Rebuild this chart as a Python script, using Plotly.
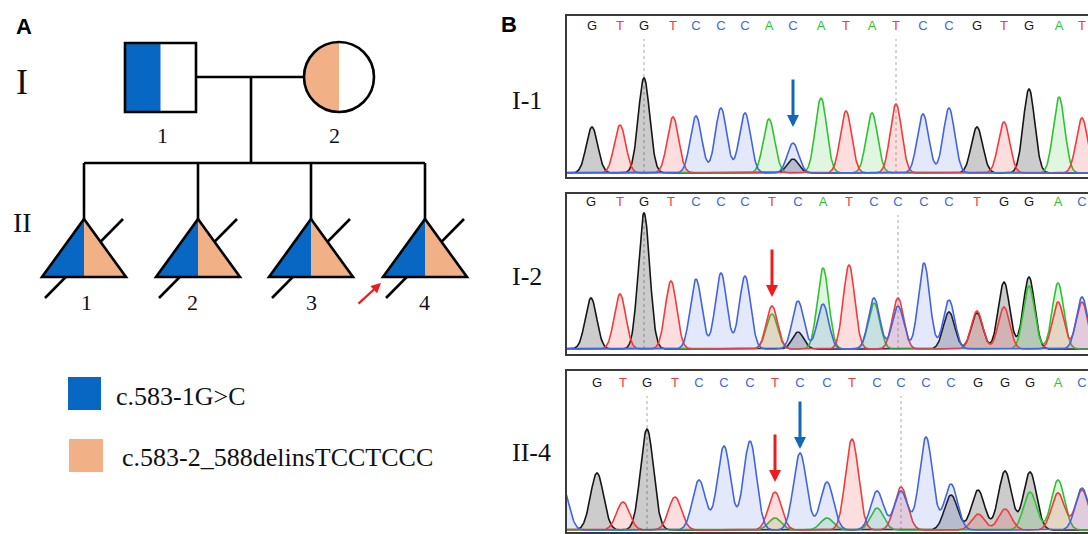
import numpy as np
import plotly.graph_objects as go

# ---------------- data ----------------
# Panel A: pedigree members and variants
legend_labels = ["c.583-1G>C", "c.583-2_588delinsTCCTCCC"]
gen_labels = ["I", "II"]
parent_ids = ["1", "2"]
child_ids = ["1", "2", "3", "4"]

# Panel B: Sanger chromatograms (scan position of each base call, and peak heights per dye channel)
sample_names = ["I-1", "I-2", "II-4"]

i1_bases = "GTGTCCCACATATCCGTGAT"
i1_pos = [592, 620, 644, 673, 696, 721, 745, 769, 793, 821, 846, 872, 896, 923, 949, 977, 1004, 1029, 1059, 1082]
i1_G = [46, 0, 95, 0, 0, 0, 0, 0, 14, 0, 0, 0, 0, 0, 0, 46, 0, 84, 0, 0]
i1_A = [0, 0, 0, 0, 0, 0, 0, 54, 0, 75, 0, 60, 0, 0, 0, 0, 0, 0, 76, 0]
i1_T = [0, 48, 0, 56, 0, 0, 0, 0, 0, 0, 62, 0, 69, 0, 0, 0, 51, 0, 0, 55]
i1_C = [0, 0, 0, 0, 57, 65, 60, 0, 30, 0, 0, 0, 0, 59, 65, 0, 0, 0, 0, 0]

i2_bases = "GTGTCCCTCATCCCCTGGAC"
i2_pos = [591, 620, 644, 671, 696, 721, 745, 772, 798, 823, 849, 874, 898, 924, 949, 977, 1004, 1029, 1058, 1082]
i2_G = [51, 0, 136, 0, 0, 0, 0, 0, 17, 0, 0, 0, 0, 0, 37, 36, 67, 72, 0, 0]
i2_A = [0, 0, 0, 0, 0, 0, 0, 35, 0, 81, 0, 46, 0, 0, 0, 0, 0, 63, 66, 0]
i2_T = [0, 55, 0, 68, 0, 0, 0, 43, 0, 0, 84, 0, 51, 0, 0, 38, 42, 0, 47, 47]
i2_C = [0, 0, 0, 0, 70, 76, 73, 0, 48, 45, 0, 51, 43, 86, 49, 0, 0, 0, 0, 52]

ii4_bases = "CGTGTCCCTCCTCCCCGGGAC"
ii4_pos = [562, 597, 623, 647, 675, 699, 724, 750, 775, 800, 827, 852, 877, 901, 926, 951, 978, 1005, 1030, 1058, 1082]
ii4_G = [0, 57, 0, 101, 0, 0, 0, 0, 0, 0, 0, 0, 0, 0, 0, 35, 40, 59, 58, 0, 0]
ii4_A = [0, 0, 0, 0, 0, 0, 0, 0, 12, 0, 12, 0, 22, 0, 0, 0, 0, 0, 38, 50, 0]
ii4_T = [0, 0, 28, 0, 33, 0, 0, 0, 38, 0, 0, 91, 0, 43, 0, 0, 16, 21, 0, 37, 40]
ii4_C = [45, 0, 0, 0, 0, 50, 84, 89, 0, 77, 48, 0, 39, 39, 93, 46, 0, 0, 0, 0, 42]

# base index of marked (every-10th) positions and mutation arrows per sample (index, colour, tip height)
marker_idx = [[2, 12], [2, 12], [3, 13]]
arrows = [[(8, "blue", 46)], [(7, "red", 52)], [(8, "red", 48), (9, "blue", 81)]]

# ---------------- styles ----------------
BLUE = "#0767c2"
PEACH = "#f1b085"
RED_ARROW = "#ee1c1c"
BLUE_ARROW = "#1268b7"
SERIF = "Liberation Serif, Times New Roman, serif"
SANS = "Liberation Sans, Arial, sans-serif"
DYE = {"G": "#161616", "A": "#2ec42e", "T": "#f23b3b", "C": "#4264e0"}
DYE_FILL = {"G": "rgba(0,0,0,0.20)", "A": "rgba(46,196,46,0.15)",
            "T": "rgba(242,59,59,0.17)", "C": "rgba(66,100,224,0.15)"}
W, H = 1088, 534

fig = go.Figure()
shapes = []
ann = []
LW = 2.6

# ---------------- Panel A (pedigree, drawn in x/y = pixel diagram space) ----------------
def line(x0, y0, x1, y1, w=LW, color="black"):
    shapes.append(dict(type="line", xref="x", yref="y", x0=x0, y0=y0, x1=x1, y1=y1,
                       line=dict(color=color, width=w)))

# father (square, left half affected)
sq = (125, 43, 196, 112)
shapes.append(dict(type="rect", xref="x", yref="y", x0=sq[0], y0=sq[1], x1=(sq[0] + sq[2]) / 2, y1=sq[3],
                   fillcolor=BLUE, line=dict(width=0)))
shapes.append(dict(type="rect", xref="x", yref="y", x0=sq[0], y0=sq[1], x1=sq[2], y1=sq[3],
                   line=dict(color="black", width=LW)))
# mother (circle, left half affected)
cx, cy, r = 339, 77, 35
th = np.linspace(np.pi / 2, 3 * np.pi / 2, 60)
pts = [(cx + r * np.cos(t), cy - r * np.sin(t)) for t in th]
path = "M " + " L ".join(f"{x:.2f},{y:.2f}" for x, y in pts) + " Z"
shapes.append(dict(type="path", xref="x", yref="y", path=path, fillcolor=PEACH, line=dict(width=0)))
shapes.append(dict(type="circle", xref="x", yref="y", x0=cx - r, y0=cy - r, x1=cx + r, y1=cy + r,
                   line=dict(color="black", width=LW)))
# connecting lines
line(sq[2], 77, cx - r, 77)
line(251, 77, 251, 163)
child_x = [84, 198, 311, 425]
line(child_x[0], 163, child_x[-1], 163)
apex_y, base_y, hw = 219, 277, 42
for x in child_x:
    line(x, 163, x, apex_y)
    # deceased slash (behind symbol)
    line(x - 39, 298, x + 39, 219)
    shapes.append(dict(type="path", xref="x", yref="y",
                       path=f"M {x},{apex_y} L {x},{base_y} L {x - hw},{base_y} Z",
                       fillcolor=BLUE, line=dict(width=0)))
    shapes.append(dict(type="path", xref="x", yref="y",
                       path=f"M {x},{apex_y} L {x + hw},{base_y} L {x},{base_y} Z",
                       fillcolor=PEACH, line=dict(width=0)))
    shapes.append(dict(type="path", xref="x", yref="y",
                       path=f"M {x},{apex_y} L {x + hw},{base_y} L {x - hw},{base_y} Z",
                       line=dict(color="black", width=LW)))

# legend squares
shapes.append(dict(type="rect", xref="x", yref="y", x0=68, y0=377, x1=101, y1=410, fillcolor=BLUE, line=dict(width=0)))
shapes.append(dict(type="rect", xref="x", yref="y", x0=69, y0=439, x1=103, y1=472, fillcolor=PEACH, line=dict(width=0)))

def text(x, y, s, size, family=SERIF, color="#111", xanchor="center", bold=False, xref="x", yref="y"):
    ann.append(dict(x=x, y=y, xref=xref, yref=yref, text=f"<b>{s}</b>" if bold else s, showarrow=False,
                    font=dict(family=family, size=size, color=color), xanchor=xanchor, yanchor="middle"))

text(24, 26, "A", 22, family=SANS, bold=True, color="black")
text(509, 24, "B", 22, family=SANS, bold=True, color="black")
text(22, 82, gen_labels[0], 36)
text(22, 222, gen_labels[1], 28)
text(162, 135, parent_ids[0], 22)
text(334, 135, parent_ids[1], 22)
for x, lab, dx in zip(child_x, child_ids, [2, -6, 0, -1]):
    text(x + dx, 302, lab, 22)
text(114, 396, legend_labels[0], 26, xanchor="left")
text(120, 457, legend_labels[1], 26, xanchor="left")
# proband arrow
ann.append(dict(x=381, y=283, ax=357, ay=305, xref="x", yref="y", axref="x", ayref="y", text="",
                showarrow=True, arrowhead=2, arrowsize=0.9, arrowwidth=2.2, arrowcolor=RED_ARROW))

# ---------------- Panel B (chromatograms) ----------------
samples = [
    (i1_bases, i1_pos, {"G": i1_G, "A": i1_A, "T": i1_T, "C": i1_C}, 5.7),
    (i2_bases, i2_pos, {"G": i2_G, "A": i2_A, "T": i2_T, "C": i2_C}, 5.7),
    (ii4_bases, ii4_pos, {"G": ii4_G, "A": ii4_A, "T": ii4_T, "C": ii4_C}, 6.5),
]
# box geometry (pixels): top, bottom, baseline
boxes = [(15, 178, 173), (193, 355, 349), (370, 533, 530)]
label_y = [100, 276, 452]
X0 = 566
xr = [X0, W]
grid = np.arange(540, 1110, 0.5)
LETTER_H = 146

for k, ((bases, pos, ch, sig), (top, bot, base)) in enumerate(zip(samples, boxes)):
    n = k + 2
    xa, ya = f"x{n}", f"y{n}"
    pos = np.array(pos, dtype=float)
    for dye in ["G", "A", "T", "C"]:
        h = np.array(ch[dye], dtype=float)
        sig_y = (h[:, None] * np.exp(-(grid[None, :] - pos[:, None]) ** 2 / (2 * sig ** 2))).sum(axis=0)
        fig.add_trace(go.Scatter(x=grid, y=sig_y, mode="lines", fill="tozeroy", fillcolor=DYE_FILL[dye],
                                 line=dict(color=DYE[dye], width=1.6), xaxis=xa, yaxis=ya,
                                 hoverinfo="skip", showlegend=False))
    # base calls
    keep = [i for i, p in enumerate(pos) if p > X0 + 6]
    fig.add_trace(go.Scatter(x=[pos[i] for i in keep], y=[LETTER_H] * len(keep),
                             mode="text", text=[bases[i] for i in keep],
                             textfont=dict(family=SANS, size=13, color=[DYE[bases[i]] for i in keep]),
                             xaxis=xa, yaxis=ya, hoverinfo="skip", showlegend=False, cliponaxis=False))
    # axes
    fig.layout[f"xaxis{n}"] = dict(domain=[X0 / W, 1], range=xr, visible=False, anchor=ya, fixedrange=True)
    fig.layout[f"yaxis{n}"] = dict(domain=[1 - bot / H, 1 - top / H], range=[-(bot - base), base - top],
                                   visible=False, anchor=xa, fixedrange=True)
    # frame
    shapes.append(dict(type="rect", xref="paper", yref="paper", x0=X0 / W, x1=1.05,
                       y0=1 - bot / H, y1=1 - top / H, line=dict(color="#3a3a3a", width=2), layer="above"))
    # 10-base markers
    for mi in marker_idx[k]:
        shapes.append(dict(type="line", xref=xa, yref=ya, x0=pos[mi], x1=pos[mi], y0=0, y1=134,
                           line=dict(color="#a8a8a8", width=1, dash="dot"), layer="below"))
    # arrows
    for bi, col, tip in arrows[k]:
        ann.append(dict(x=pos[bi], y=tip, xref=xa, yref=ya, ax=0, ay=-49, text="", showarrow=True,
                        arrowhead=2, arrowsize=0.8, arrowwidth=3,
                        arrowcolor=RED_ARROW if col == "red" else BLUE_ARROW))
    text(510, label_y[k], sample_names[k], 26, xanchor="left")

fig.update_layout(
    width=W, height=H, margin=dict(l=0, r=0, t=0, b=0),
    paper_bgcolor="white", plot_bgcolor="rgba(0,0,0,0)",
    xaxis=dict(domain=[0, 1], range=[0, W], visible=False, fixedrange=True),
    yaxis=dict(domain=[0, 1], range=[H, 0], visible=False, fixedrange=True),
    shapes=shapes, annotations=ann, showlegend=False,
)
# anchor an invisible point so the pedigree axes exist
fig.add_trace(go.Scatter(x=[0], y=[0], mode="markers", marker=dict(opacity=0), xaxis="x", yaxis="y",
                         hoverinfo="skip", showlegend=False))
fig.write_html("out.html", config={"displayModeBar": False},
               post_script="document.body.style.margin='0px';document.body.style.overflow='hidden';")
